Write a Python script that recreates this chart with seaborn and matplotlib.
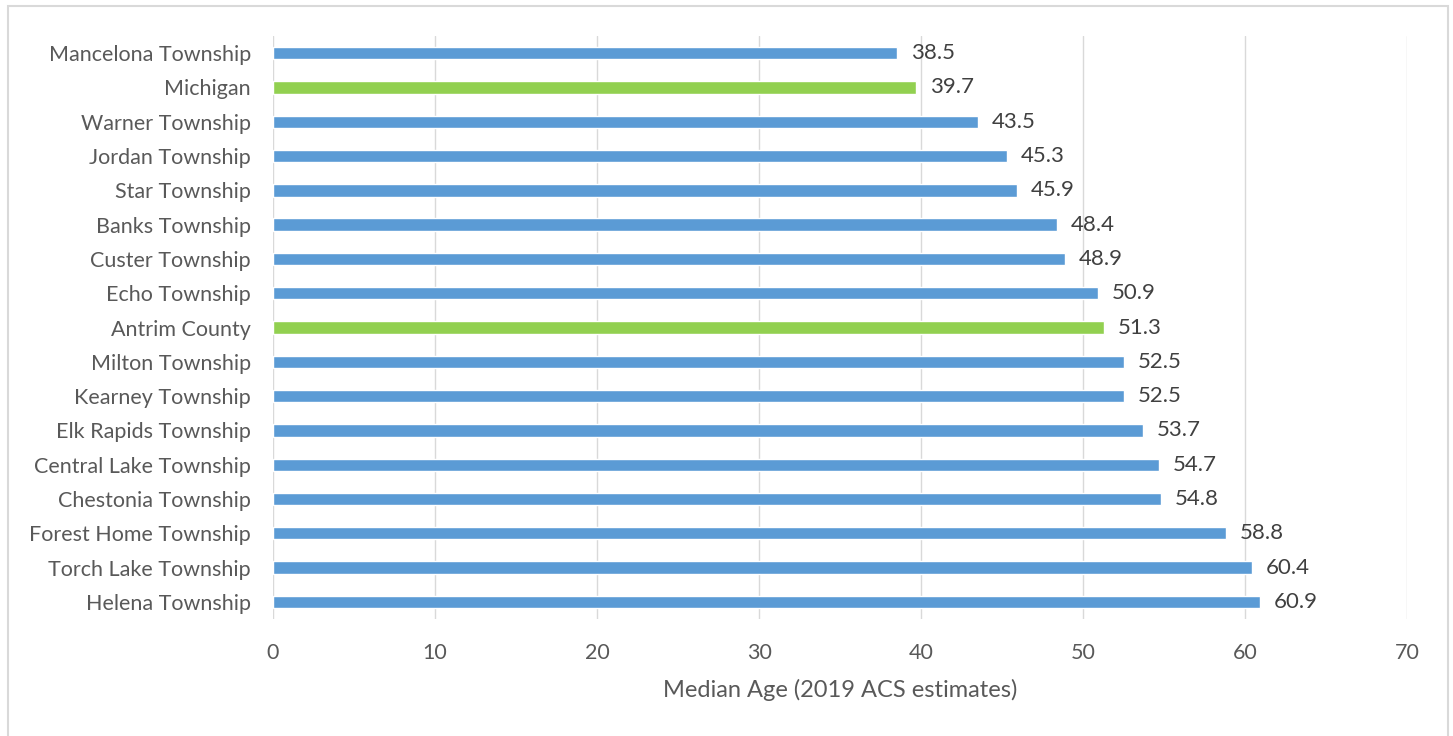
import matplotlib
matplotlib.use("Agg")
import pandas as pd
import matplotlib.pyplot as plt
import seaborn as sns
from matplotlib.patches import Rectangle

places = ["Mancelona Township", "Michigan", "Warner Township", "Jordan Township",
          "Star Township", "Banks Township", "Custer Township", "Echo Township",
          "Antrim County", "Milton Township", "Kearney Township", "Elk Rapids Township",
          "Central Lake Township", "Chestonia Township", "Forest Home Township",
          "Torch Lake Township", "Helena Township"]
median_age = [38.5, 39.7, 43.5, 45.3, 45.9, 48.4, 48.9, 50.9, 51.3,
              52.5, 52.5, 53.7, 54.7, 54.8, 58.8, 60.4, 60.9]
highlight = ["Michigan", "Antrim County"]

df = pd.DataFrame({"place": places, "age": median_age})
df["kind"] = ["state" if p in highlight else "local" for p in places]

sns.set_style("white")
plt.rcParams["font.family"] = ["Lato", "DejaVu Sans"]
text_color = "#595959"

fig = plt.figure(figsize=(14.53, 7.36), dpi=100)
ax = fig.add_axes([0.1879, 0.159, 0.7805, 0.792])

sns.barplot(data=df, y="place", x="age", hue="kind", orient="h",
            palette={"local": "#5B9BD5", "state": "#92D050"}, saturation=1,
            width=0.36, legend=False, ax=ax, zorder=3)

# value labels at the end of each bar
for cont in ax.containers:
    ax.bar_label(cont, fmt="%.1f", padding=10, fontsize=16, color="#404040")

ax.set_xlim(0, 70)
ax.set_xticks(range(0, 71, 10))
ax.grid(axis="x", color="#D9D9D9", linewidth=1, zorder=0)
for s in ax.spines.values():
    s.set_visible(False)
ax.tick_params(axis="both", length=0, labelsize=15.5, colors=text_color)
ax.tick_params(axis="x", pad=17)
ax.tick_params(axis="y", pad=16)
ax.set_ylabel("")
ax.set_xlabel("Median Age (2019 ACS estimates)", fontsize=17, color=text_color, labelpad=12)

fig.patches.append(Rectangle((8 / 1453, -0.01), 1440 / 1453, 1 - 6 / 736 + 0.01,
                             transform=fig.transFigure, fill=False,
                             edgecolor="#D9D9D9", linewidth=1.5))

fig.savefig("out.png", dpi=100)
